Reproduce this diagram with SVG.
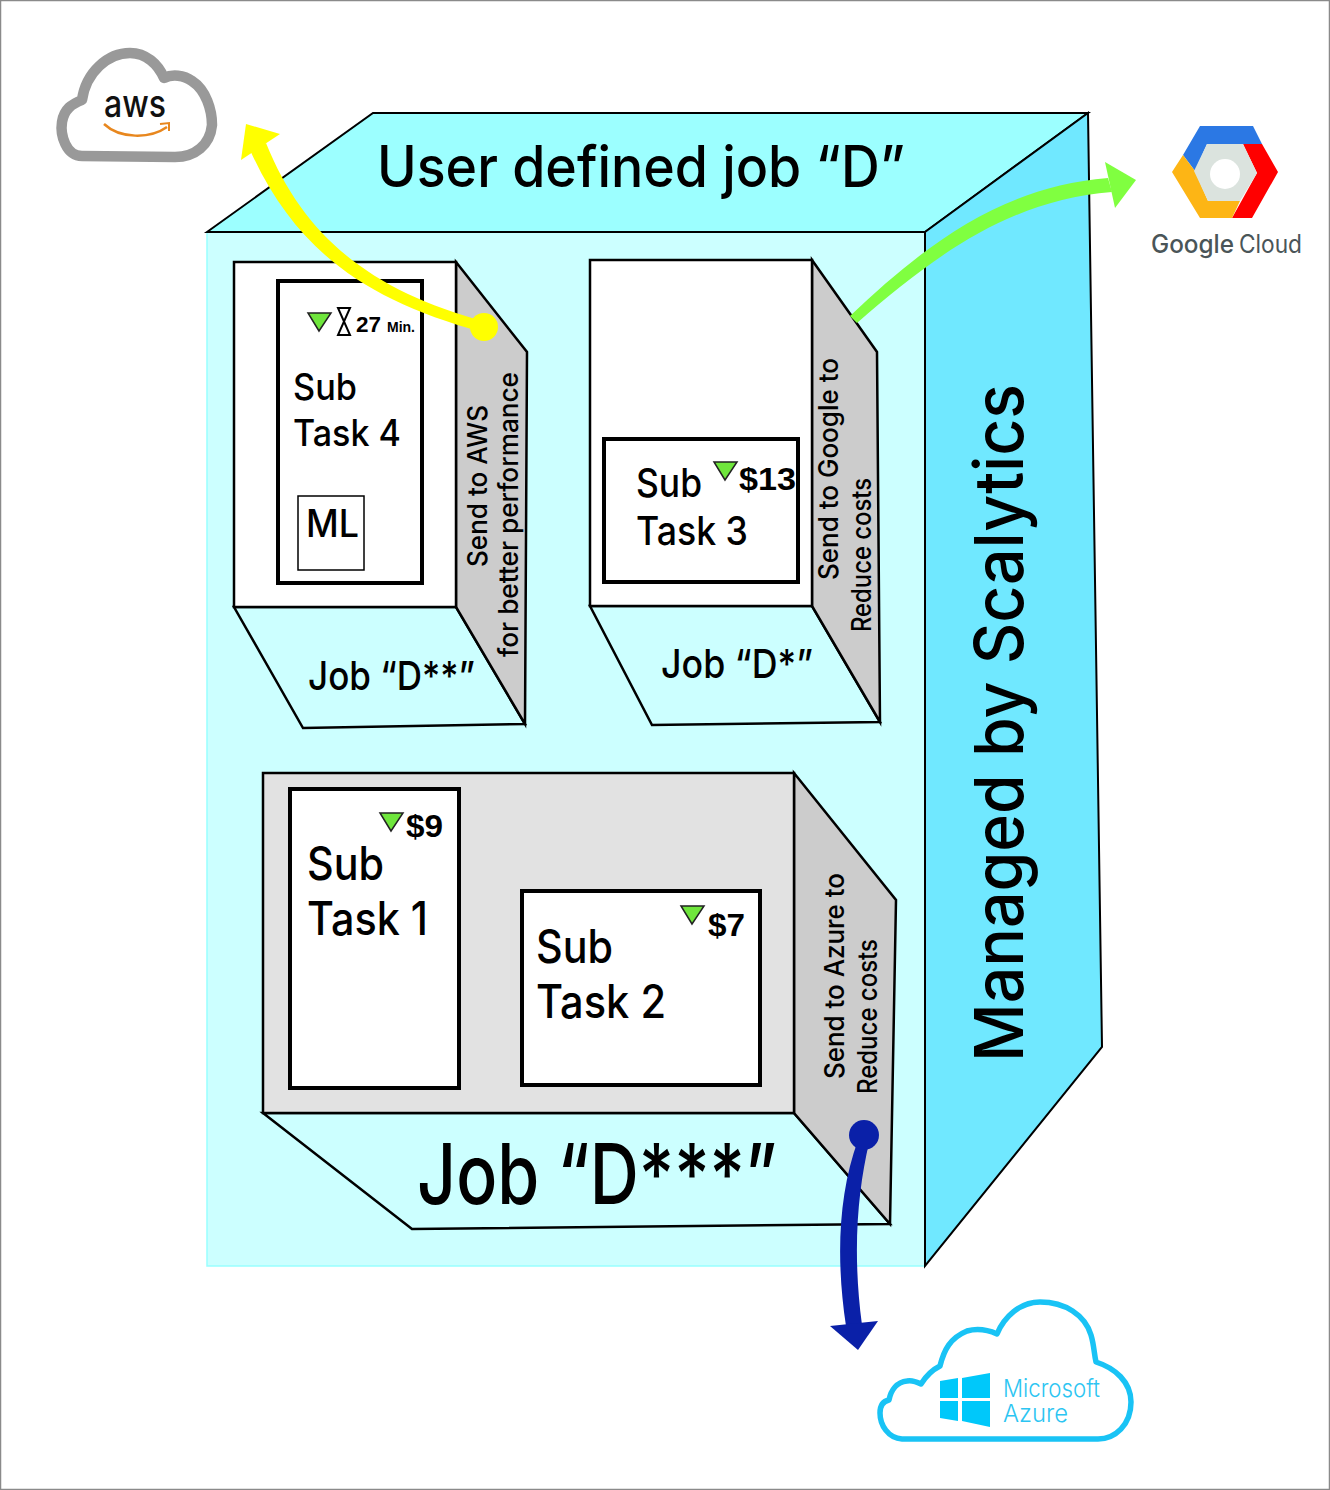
<svg xmlns="http://www.w3.org/2000/svg" width="1330" height="1490" viewBox="0 0 1330 1490">
<style>
.o{stroke:#000;stroke-width:2.5;stroke-linejoin:miter}
.t{font-family:Inter,"Open Sans","Noto Sans",sans-serif;fill:#000;font-weight:500}
.a{font-family:"Liberation Sans",Arial,sans-serif;font-weight:700;fill:#000}
.b{fill:#fff;stroke:#000;stroke-width:4}
.g{fill:#cccccc}
.tri{fill:#6fe63c;stroke:#222;stroke-width:1.5}
</style>
<rect x="0.5" y="0.5" width="1329" height="1489" fill="#fff" stroke="#8a8a8a" stroke-width="1.5"/>

<g id="outer-box">
<rect x="207" y="232" width="718" height="1034" fill="#ccffff" stroke="#99ffff" stroke-width="1.5"/>
<polygon points="207,232 373,113 1088,113 925,232" fill="#9cffff" stroke="#000" stroke-width="2"/>
<polygon points="925,232 1088,113 1102,1047 925,1266" fill="#70e8ff" stroke="#000" stroke-width="2"/>
<line x1="207" y1="232" x2="925" y2="232" stroke="#000" stroke-width="2"/>
<text class="t" x="377" y="187" font-size="57" textLength="528" lengthAdjust="spacingAndGlyphs">User defined job “D”</text>
<text class="t" transform="translate(1023,1062) rotate(-90)" font-size="68" textLength="678" lengthAdjust="spacingAndGlyphs">Managed by Scalytics</text>
</g>

<g id="job-d2">
<polygon class="o" points="234,607 456,607 525,724 303,728" fill="#ccffff"/>
<polygon class="o g" points="456,262 527,352 525,724 456,607"/>
<rect class="o" x="234" y="262" width="222" height="345" fill="#fff"/>
<text class="t" x="308" y="690" font-size="40" textLength="167" lengthAdjust="spacingAndGlyphs">Job “D**”</text>
<text class="t" transform="translate(487,567) rotate(-90)" font-size="27" textLength="162" lengthAdjust="spacingAndGlyphs">Send to AWS</text>
<text class="t" transform="translate(518,657) rotate(-90)" font-size="27" textLength="285" lengthAdjust="spacingAndGlyphs">for better performance</text>
</g>
<g id="subtask-4">
<rect class="b" x="278" y="281" width="144" height="302"/>
<polygon class="tri" points="308,313 331,313 319,331"/>
<path d="M338,308H350L338,335H350Z" fill="#fff" stroke="#000" stroke-width="2"/>
<text class="a" x="356" y="332" font-size="22" textLength="25" lengthAdjust="spacingAndGlyphs">27</text>
<text class="a" x="387" y="332" font-size="14" textLength="28" lengthAdjust="spacingAndGlyphs">Min.</text>
<text class="t" x="293" y="400" font-size="37" textLength="64" lengthAdjust="spacingAndGlyphs">Sub</text>
<text class="t" x="293" y="446" font-size="37" textLength="108" lengthAdjust="spacingAndGlyphs">Task 4</text>
<rect x="298" y="496" width="66" height="74" fill="#fff" stroke="#000" stroke-width="1.5"/>
<text class="t" x="306" y="537" font-size="38" textLength="53" lengthAdjust="spacingAndGlyphs">ML</text>
</g>

<g id="job-d1">
<polygon class="o" points="590,606 812,606 880,722 652,725" fill="#ccffff"/>
<polygon class="o g" points="812,260 877,352 880,722 812,606"/>
<rect class="o" x="590" y="260" width="222" height="346" fill="#fff"/>
<text class="t" x="661" y="678" font-size="40" textLength="152" lengthAdjust="spacingAndGlyphs">Job “D*”</text>
<text class="t" transform="translate(838,580) rotate(-90)" font-size="27" textLength="222" lengthAdjust="spacingAndGlyphs">Send to Google to</text>
<text class="t" transform="translate(871,632) rotate(-90)" font-size="27" textLength="154" lengthAdjust="spacingAndGlyphs">Reduce costs</text>
</g>
<g id="subtask-3">
<rect class="b" x="604" y="439" width="194" height="143"/>
<polygon class="tri" points="714,462 737,462 725,480"/>
<text class="a" x="739" y="490" font-size="31" textLength="57" lengthAdjust="spacingAndGlyphs">$13</text>
<text class="t" x="636" y="497" font-size="39" textLength="66" lengthAdjust="spacingAndGlyphs">Sub</text>
<text class="t" x="636" y="545" font-size="39" textLength="112" lengthAdjust="spacingAndGlyphs">Task 3</text>
</g>

<g id="job-d3">
<polygon class="o" points="263,1113 794,1113 890,1224 412,1229" fill="#ccffff"/>
<polygon class="o g" points="794,773 896,900 890,1224 794,1113"/>
<rect class="o" x="263" y="773" width="531" height="340" fill="#e2e2e2"/>
<text class="t" x="417" y="1204" font-size="84" textLength="360" lengthAdjust="spacingAndGlyphs">Job “D***”</text>
<text class="t" transform="translate(844,1079) rotate(-90)" font-size="27" textLength="206" lengthAdjust="spacingAndGlyphs">Send to Azure to</text>
<text class="t" transform="translate(877,1094) rotate(-90)" font-size="27" textLength="155" lengthAdjust="spacingAndGlyphs">Reduce costs</text>
</g>
<g id="subtask-1">
<rect class="b" x="290" y="789" width="169" height="299"/>
<polygon class="tri" points="380,813 403,813 391,831"/>
<text class="a" x="406" y="837" font-size="31" textLength="37" lengthAdjust="spacingAndGlyphs">$9</text>
<text class="t" x="307" y="880" font-size="46" textLength="77" lengthAdjust="spacingAndGlyphs">Sub</text>
<text class="t" x="307" y="935" font-size="46" textLength="121" lengthAdjust="spacingAndGlyphs">Task 1</text>
</g>
<g id="subtask-2">
<rect class="b" x="522" y="891" width="238" height="194"/>
<polygon class="tri" points="681,906 704,906 692,924"/>
<text class="a" x="708" y="936" font-size="31" textLength="37" lengthAdjust="spacingAndGlyphs">$7</text>
<text class="t" x="536" y="963" font-size="46" textLength="77" lengthAdjust="spacingAndGlyphs">Sub</text>
<text class="t" x="536" y="1018" font-size="46" textLength="130" lengthAdjust="spacingAndGlyphs">Task 2</text>
</g>

<g id="connectors">
<path d="M486,322C375,292 305,240 266,143L250,150C295,250 365,300 482,332Z" fill="#ffff00"/>
<polygon points="246,124 280,134 241,160" fill="#ffff00"/>
<circle cx="484" cy="327" r="14" fill="#ffff00"/>
<path d="M850,316C925,245 1000,187 1108,178L1112,192C1010,200 935,255 857,323Z" fill="#80ff40"/>
<polygon points="1105,162 1136,180 1115,208" fill="#80ff40"/>
<path d="M858,1140L869,1143C858,1190 852,1250 862,1325L846,1326C836,1260 838,1195 858,1140Z" fill="#0a20a8"/>
<polygon points="830,1326 878,1321 858,1350" fill="#0a20a8"/>
<circle cx="864" cy="1135" r="15" fill="#0a20a8"/>
</g>

<g id="aws">
<path d="M82,156C66,156 60,135 62,122C64,109 72,104 82,100C86,72 108,53 130,53C146,53 158,64 164,78C172,74 184,75 192,81C206,90 212,110 212,125C210,145 195,157 175,157Z" fill="#fff" stroke="#999" stroke-width="10.5" stroke-linejoin="round"/>
<text x="104" y="117" font-family="Inter,'Open Sans',sans-serif" font-size="38" font-weight="500" fill="#111" textLength="62" lengthAdjust="spacingAndGlyphs">aws</text>
<path d="M104,124C120,139 150,139 167,127" fill="none" stroke="#e8871e" stroke-width="2.5"/>
<path d="M160,124L169,123L169,131" fill="none" stroke="#e8871e" stroke-width="2"/>
</g>

<g id="google-cloud">
<polygon points="1200,126 1253,126 1262,144 1243,144 1207,144 1195,171 1183,155" fill="#2b78e4"/>
<polygon points="1243,144 1262,144 1278,172 1252,218 1232,218 1257,173" fill="#ff0000"/>
<polygon points="1183,155 1195,171 1208,201 1240,201 1232,218 1200,218 1172,172" fill="#fdb515"/>
<polygon points="1207,144 1243,144 1257,173 1240,201 1208,201 1194,171" fill="#dbe3de"/>
<circle cx="1225" cy="174" r="15" fill="#fff"/>
<text x="1151" y="253" font-family="Inter,'Open Sans',sans-serif" font-size="25" fill="#4a5558" textLength="83" lengthAdjust="spacingAndGlyphs" font-weight="500">Google</text>
<text x="1239" y="253" font-family="Inter,'Open Sans',sans-serif" font-size="25" fill="#4a5558" textLength="63" lengthAdjust="spacingAndGlyphs">Cloud</text>
</g>

<g id="azure">
<path d="M902,1439C888,1438 880,1425 880,1413C880,1405 884,1401 889,1400C891,1390 897,1382 907,1381C912,1380 917,1382 921,1384C926,1376 932,1370 940,1366C944,1350 950,1338 967,1331C978,1328 988,1330 997,1334C1004,1317 1020,1302 1040,1302C1065,1302 1085,1315 1091,1335C1094,1345 1094,1353 1096,1362C1115,1368 1131,1382 1131,1402C1131,1425 1115,1439 1098,1439Z" fill="#fff" stroke="#19c3f5" stroke-width="5.5" stroke-linejoin="round"/>
<polygon points="940,1381 958,1378 958,1398 940,1398" fill="#00c8fa"/>
<polygon points="962,1378 990,1373 990,1398 962,1398" fill="#00c8fa"/>
<polygon points="940,1401 958,1401 958,1421 940,1418" fill="#00c8fa"/>
<polygon points="962,1401 990,1401 990,1427 962,1421" fill="#00c8fa"/>
<text font-family="Inter,'Open Sans',sans-serif" font-size="24" font-weight="300" fill="#2cc5f2"><tspan x="1003" y="1397" textLength="97" lengthAdjust="spacingAndGlyphs">Microsoft</tspan><tspan x="1003" y="1422" textLength="65" lengthAdjust="spacingAndGlyphs">Azure</tspan></text>
</g>
</svg>
